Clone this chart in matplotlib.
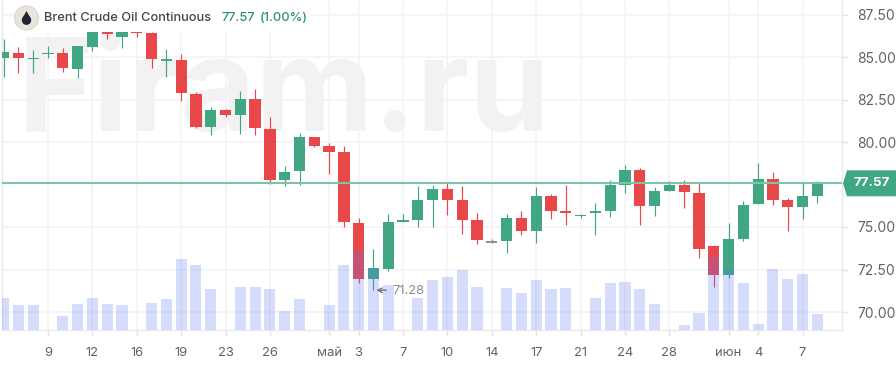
import matplotlib
matplotlib.use("Agg")
import matplotlib.pyplot as plt
from matplotlib.patches import Polygon, Rectangle, Circle

plt.rcParams['font.family'] = ['Inter', 'DejaVu Sans']

opens  = [84.92,85.22,84.86,85.18,85.22,84.27,85.59,86.90,86.20,86.90,86.39,84.78,84.82,82.84,80.88,81.88,81.61,82.55,80.78,77.76,
          78.29,80.27,79.76,79.39,75.25,71.96,72.55,75.31,75.41,76.59,77.25,76.59,75.41,74.16,74.16,75.55,74.75,76.80,75.92,75.63,
          75.80,75.94,77.47,78.35,76.24,77.10,77.45,77.02,73.86,72.18,74.31,76.37,77.82,76.59,76.16,76.82]
highs  = [86.04,85.57,85.41,85.65,85.51,85.65,87.00,87.00,87.00,87.00,86.45,85.45,85.16,82.92,82.04,81.94,83.02,83.10,81.45,78.59,
          80.55,80.30,79.92,79.76,75.55,73.73,75.76,75.78,77.41,77.47,77.57,77.41,75.84,74.31,75.76,75.94,77.33,76.94,77.47,75.76,
          76.43,77.76,78.67,78.49,77.33,77.69,77.76,77.57,73.94,75.25,76.51,78.75,78.22,76.73,77.57,77.69]
lows   = [83.84,84.04,84.04,84.92,84.12,83.75,85.35,86.04,85.51,86.20,84.33,83.80,82.41,80.80,80.41,81.45,80.49,80.41,77.53,77.40,
          77.50,79.73,78.12,75.02,71.73,71.28,72.39,75.27,74.98,75.02,75.69,74.59,74.00,74.04,73.49,74.51,74.08,75.47,75.10,75.55,
          74.51,75.61,77.02,75.10,75.67,77.10,76.14,73.20,71.49,72.00,74.16,76.37,76.27,74.75,75.47,76.43]
closes = [85.27,84.92,84.92,85.25,84.33,85.65,86.90,86.33,86.90,86.39,84.86,84.86,82.86,80.88,81.90,81.61,82.55,80.80,77.76,78.25,
          80.31,79.78,79.41,75.27,71.96,72.57,75.31,75.41,76.59,77.25,76.59,75.41,74.24,74.08,75.55,74.75,76.80,75.92,75.80,75.71,
          75.92,77.45,78.35,76.24,77.10,77.45,77.04,73.73,72.18,74.29,76.27,77.82,76.59,76.16,76.80,77.57]
volumes = [32.3,25,25,0,13.7,26.3,32.3,26.3,25,0,27.3,31.3,71.3,65,41.3,0,42.7,42.7,41.3,18.7,
           31.3,0,24.7,64.7,78.7,61.7,44.7,0,32,49.7,53.3,59.7,43.3,0,42,37,49.7,40.7,42,0,
           32,47.3,48.3,40.7,26,0,4.7,17.3,73.3,60.7,47.3,6,60.7,51,56,16]
neutral_index = [33]
x_tick_pos = [3,6,9,12,15,18,22,24,27,30,33,36,39,42,45,49,51,54]
x_tick_labels = ['9','12','16','19','23','26','май','3','7','10','14','17','21','24','28','июн','4','7']
y_ticks = [70,72.5,75,80,82.5,85,87.5]
last_price = 77.57
low_label = 71.28
title = 'Brent Crude Oil Continuous'
change = '(1.00%)'
watermark = 'Firam.ru'

W, H = 896, 370
GREEN, RED, GREY = '#41A782', '#E8484A', '#8A8F99'
GRID = '#F3F3F6'
TXT = '#5F6268'

fig = plt.figure(figsize=(W/100, H/100), dpi=100, facecolor='white')
L, R, T, B = 2, 841.7, 0, 330
ax = fig.add_axes([L/W, 1-B/H, (R-L)/W, (B-T)/H])
step, x0 = 14.795, 3.6
ax.set_xlim((L-x0)/step, (R-x0)/step)
ax.set_ylim(80-(B-142)/17, 80+142/17)
ax.set_axisbelow(True)

ax.text(17/W, 1-130.5/H, watermark, transform=fig.transFigure, fontsize=93, fontweight='bold',
        color='#F2F2F2', ha='left', va='baseline', zorder=0.5)

for i, (o, h, l, c) in enumerate(zip(opens, highs, lows, closes)):
    col = GREY if i in neutral_index else (GREEN if c >= o else RED)
    ax.vlines(i, l, h, color=col, lw=0.85, zorder=3)
    ax.bar(i, max(abs(c-o), 0.04), bottom=min(o, c), width=0.76, color=col, zorder=3, linewidth=0)

ax.axhline(last_price, color='#7DC3AA', lw=1.5, zorder=4)

axv = ax.twinx()
axv.set_ylim(0, B-T)
axv.axis('off')
axv.bar(range(len(volumes)), volumes, width=0.75, color=(92/255, 116/255, 244/255, 0.25), linewidth=0)

ax.set_xticks(x_tick_pos, x_tick_labels)
ax.set_yticks(y_ticks, [f'{v:.2f}' for v in y_ticks])
ax.yaxis.tick_right()
ax.grid(True, color=GRID, lw=1.1)
ax.tick_params(axis='x', length=4, color='#E4E5EA', width=1, labelsize=9.4, labelcolor=TXT, pad=8.5)
ax.tick_params(axis='y', length=4, color='#E4E5EA', width=1, labelsize=10, labelcolor=TXT, pad=7)
ax.spines['top'].set_visible(False)
for s in ['left', 'right', 'bottom']:
    ax.spines[s].set_color('#E9EAEE')
    ax.spines[s].set_linewidth(1)

# low marker
ax.annotate('', xy=(25+0.0, low_label), xytext=(25+1.05, low_label),
            arrowprops=dict(arrowstyle='->', color='#6F7379', lw=1.0, mutation_scale=8), zorder=6)
ax.text(25+1.3, low_label-0.05, f'{low_label:.2f}', fontsize=9.4, color='#8A8D93', va='center', ha='left', zorder=6)

# legend backdrop
fig.add_artist(Rectangle((38/W, 1-32/H), 272/W, 32/H, transform=fig.transFigure, fc='white', ec='none', zorder=5))
cx, cy = 26.5, H-18
fig.add_artist(Circle((cx, cy), 12, transform=None, fc='#E9E5DD', ec='#D9D6CF', lw=0.8, zorder=6))
fig.add_artist(Circle((cx, cy-2.2), 4.7, transform=None, fc='#1F2530', ec='none', zorder=7))
fig.add_artist(Polygon([(cx-4.3, cy-0.6), (cx, cy+7), (cx+4.3, cy-0.6)], closed=True, transform=None,
                       fc='#1F2530', ec='none', zorder=7))
fig.text(44/W, 1-18/H, title, fontsize=9.25, color='#43464C', ha='left', va='center', zorder=7, fontweight='medium')
fig.text(221.5/W, 1-18/H, f'{last_price:.2f}', fontsize=9.2, color='#2F8F6F', ha='left', va='center', zorder=7, fontweight='medium')
fig.text(259.5/W, 1-18/H, change, fontsize=9.2, color='#2F8F6F', ha='left', va='center', zorder=7, fontweight='medium')

# price tag
fig.canvas.draw()
ypx = ax.transData.transform((0, last_price))[1]
tag = [(843, ypx), (847, ypx+13), (W, ypx+13), (W, ypx-13), (847, ypx-13)]
fig.add_artist(Polygon(tag, closed=True, transform=None, fc=GREEN, ec='none', zorder=6))
fig.text(871.5/W, ypx/H, f'{last_price:.2f}', fontsize=9.6, color='white', ha='center', va='center',
         fontweight='bold', zorder=7)

fig.savefig('out.png', dpi=100, facecolor='white')
